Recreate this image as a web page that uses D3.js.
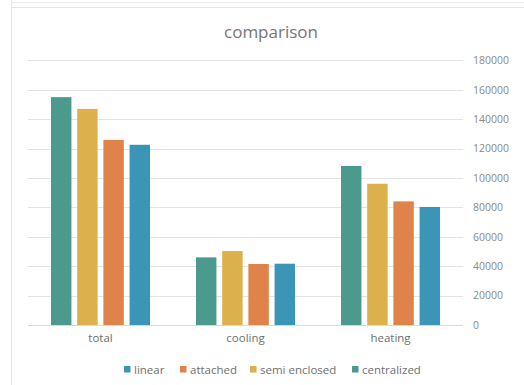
<!DOCTYPE html>
<html>
<head>
<meta charset="utf-8">
<script src="https://cdn.jsdelivr.net/npm/d3@7"></script>
<style>
  html, body { margin: 0; padding: 0; background: #fff; }
  svg { display: block; font-family: "Open Sans", "Noto Sans", sans-serif; }
</style>
</head>
<body>
<svg id="chart" width="524" height="385"></svg>
<script>
// Energy comparison by layout type
const categories = ["total", "cooling", "heating"];
const seriesNames = ["centralized", "semi enclosed", "attached", "linear"];
const centralized = [155000, 46000, 108200];
const semiEnclosed = [147000, 50300, 96100];
const attached = [125900, 41500, 84100];
const linear = [122600, 41700, 80300];
const yTicks = [0, 20000, 40000, 60000, 80000, 100000, 120000, 140000, 160000, 180000];
const legendOrder = ["linear", "attached", "semi enclosed", "centralized"];

const seriesValues = {
  "centralized": centralized,
  "semi enclosed": semiEnclosed,
  "attached": attached,
  "linear": linear
};
const colors = {
  "centralized": "#4c9a8e",
  "semi enclosed": "#dcb04b",
  "attached": "#e0834b",
  "linear": "#3b95b6"
};

const svg = d3.select("#chart");

// frame lines of the chart panel
const frame = svg.append("g").attr("stroke", "#e4e4e4").attr("stroke-width", 1);
frame.append("line").attr("x1", 11.5).attr("x2", 11.5).attr("y1", 0).attr("y2", 385);
frame.append("line").attr("x1", 11).attr("x2", 524).attr("y1", 2.5).attr("y2", 2.5).attr("stroke", "#ececec");
frame.append("line").attr("x1", 11).attr("x2", 524).attr("y1", 7.5).attr("y2", 7.5);

const plot = { left: 28, right: 463, top: 60.4, bottom: 325 };

const x0 = d3.scaleBand().domain(categories).range([plot.left, plot.right]).paddingInner(0).paddingOuter(0);
const groupWidth = 99;
const x1 = d3.scaleBand().domain(seriesNames).range([0, groupWidth]).paddingInner(0.22).paddingOuter(0);
const y = d3.scaleLinear().domain([0, 180000]).range([plot.bottom, plot.top]);

// gridlines
svg.append("g")
  .selectAll("line")
  .data(yTicks)
  .join("line")
  .attr("x1", plot.left)
  .attr("x2", plot.right)
  .attr("y1", d => Math.round(y(d)) + 0.5)
  .attr("y2", d => Math.round(y(d)) + 0.5)
  .attr("stroke", d => d === 0 ? "#d9d9d9" : "#e3e3e3")
  .attr("stroke-width", 1);

// right-side value axis
const yAxis = d3.axisRight(y).tickValues(yTicks).tickSize(0).tickPadding(0).tickFormat(d3.format("d"));
const yAxisG = svg.append("g")
  .attr("transform", `translate(${plot.right + 10},0)`)
  .call(yAxis);
yAxisG.select(".domain").remove();
yAxisG.selectAll("text")
  .attr("fill", "#8a8a8a")
  .style("font-size", "10.5px")
  .style("font-family", "\"Open Sans\", sans-serif");

// bars
const groups = svg.append("g")
  .selectAll("g")
  .data(categories)
  .join("g")
  .attr("transform", c => `translate(${x0(c) + (x0.bandwidth() - groupWidth) / 2},0)`);

groups.selectAll("rect")
  .data((c, i) => seriesNames.map(s => ({ series: s, value: seriesValues[s][i] })))
  .join("rect")
  .attr("x", d => x1(d.series))
  .attr("width", x1.bandwidth())
  .attr("y", d => y(d.value))
  .attr("height", d => y(0) - y(d.value))
  .attr("fill", d => colors[d.series]);

// category axis labels
const xAxis = d3.axisBottom(x0).tickSize(0).tickPadding(0);
const xAxisG = svg.append("g")
  .attr("transform", `translate(0,${plot.bottom + 9})`)
  .call(xAxis);
xAxisG.select(".domain").remove();
xAxisG.selectAll("text")
  .attr("fill", "#6f6f6f")
  .style("font-size", "11.5px")
  .style("font-family", "\"Open Sans\", sans-serif");

// title
svg.append("text")
  .attr("x", 271)
  .attr("y", 38)
  .attr("text-anchor", "middle")
  .attr("fill", "#767676")
  .style("font-size", "17px")
  .text("comparison");

// legend
const legendX = [124, 180, 250, 352];
const legend = svg.append("g")
  .selectAll("g")
  .data(legendOrder)
  .join("g")
  .attr("transform", (d, i) => `translate(${legendX[i]},366)`);
legend.append("rect")
  .attr("width", 6.5)
  .attr("height", 6.5)
  .attr("y", 0)
  .attr("fill", d => colors[d]);
legend.append("text")
  .attr("x", 10)
  .attr("y", 7.5)
  .attr("fill", "#6f6f6f")
  .style("font-size", "11.5px")
  .text(d => d);
</script>
</body>
</html>
